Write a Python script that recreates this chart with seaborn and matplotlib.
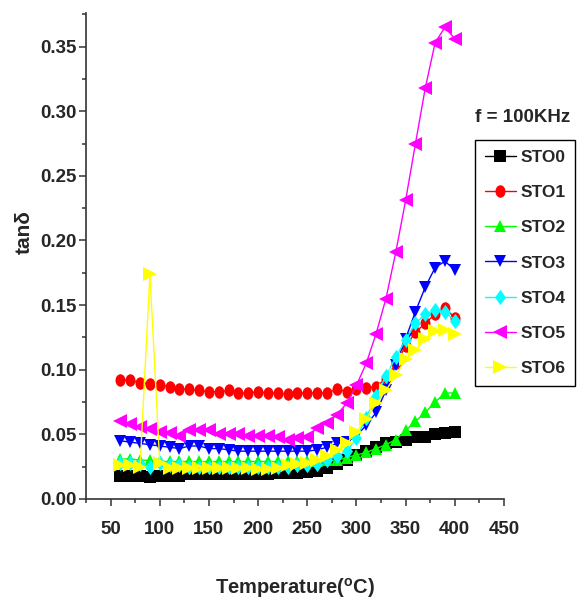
import matplotlib
matplotlib.use("Agg")
import matplotlib.pyplot as plt
import seaborn as sns
from matplotlib.path import Path
from matplotlib.ticker import MultipleLocator, FormatStrFormatter

# Temperature (deg C) and loss tangent for each sample at f = 100 kHz
temperature = [60, 70, 80, 90, 100, 110, 120, 130, 140, 150, 160, 170, 180, 190,
               200, 210, 220, 230, 240, 250, 260, 270, 280, 290, 300, 310, 320,
               330, 340, 350, 360, 370, 380, 390, 400]

sto0 = [0.018, 0.018, 0.018, 0.017, 0.018, 0.018, 0.018, 0.019, 0.019, 0.019,
        0.019, 0.019, 0.019, 0.019, 0.019, 0.019, 0.020, 0.020, 0.020, 0.021,
        0.022, 0.024, 0.027, 0.030, 0.034, 0.037, 0.040, 0.043, 0.044, 0.046,
        0.048, 0.048, 0.050, 0.051, 0.052]
sto1 = [0.092, 0.092, 0.090, 0.089, 0.088, 0.087, 0.085, 0.085, 0.084, 0.083,
        0.083, 0.084, 0.082, 0.082, 0.083, 0.082, 0.082, 0.081, 0.082, 0.082,
        0.082, 0.082, 0.085, 0.083, 0.085, 0.086, 0.087, 0.093, 0.105, 0.118,
        0.129, 0.136, 0.143, 0.148, 0.140]
sto2 = [0.031, 0.031, 0.030, 0.030, 0.029, 0.029, 0.029, 0.029, 0.029, 0.029,
        0.029, 0.029, 0.029, 0.029, 0.029, 0.029, 0.029, 0.029, 0.029, 0.029,
        0.029, 0.030, 0.030, 0.032, 0.034, 0.036, 0.039, 0.042, 0.046, 0.053,
        0.060, 0.067, 0.075, 0.082, 0.082]
sto3 = [0.045, 0.044, 0.043, 0.042, 0.041, 0.040, 0.039, 0.041, 0.041, 0.039,
        0.039, 0.038, 0.037, 0.037, 0.037, 0.037, 0.037, 0.037, 0.037, 0.037,
        0.038, 0.040, 0.043, 0.044, 0.049, 0.057, 0.067, 0.084, 0.104, 0.124,
        0.145, 0.164, 0.179, 0.184, 0.177]
sto4 = [0.028, 0.028, 0.027, 0.025, 0.028, 0.026, 0.026, 0.025, 0.025, 0.025,
        0.025, 0.025, 0.025, 0.025, 0.025, 0.025, 0.025, 0.025, 0.026, 0.026,
        0.027, 0.030, 0.033, 0.037, 0.047, 0.063, 0.080, 0.095, 0.110, 0.123,
        0.136, 0.143, 0.146, 0.145, 0.138]
sto5 = [0.060, 0.058, 0.056, 0.054, 0.052, 0.051, 0.049, 0.053, 0.053, 0.053,
        0.050, 0.050, 0.050, 0.049, 0.049, 0.049, 0.048, 0.046, 0.047, 0.048,
        0.055, 0.059, 0.065, 0.074, 0.088, 0.105, 0.128, 0.155, 0.191, 0.231,
        0.275, 0.318, 0.353, 0.365, 0.356]
sto6 = [0.026, 0.026, 0.025, 0.174, 0.028, 0.024, 0.024, 0.024, 0.024, 0.024,
        0.024, 0.024, 0.024, 0.024, 0.023, 0.023, 0.024, 0.026, 0.027, 0.028,
        0.030, 0.033, 0.038, 0.043, 0.052, 0.062, 0.074, 0.084, 0.096, 0.108,
        0.115, 0.124, 0.130, 0.131, 0.128]

names = ["STO0", "STO1", "STO2", "STO3", "STO4", "STO5", "STO6"]
series = [sto0, sto1, sto2, sto3, sto4, sto5, sto6]
colors = ["#000000", "#FF0000", "#00FF00", "#0000FF", "#00FFFF", "#FF00FF", "#FFFF00"]


def squeezed(path, sx=0.8):
    """Return a marker path narrowed horizontally."""
    v = path.vertices.copy()
    v[:, 0] *= sx
    return Path(v, path.codes)


ellipse = squeezed(Path.unit_circle(), 0.8)
diamond = Path([(0, 1), (0.72, 0), (0, -1), (-0.72, 0), (0, 1)],
               [Path.MOVETO, Path.LINETO, Path.LINETO, Path.LINETO, Path.CLOSEPOLY])
markers = ["s", ellipse, "^", "v", diamond, "<", ">"]
msizes = [8, 9, 9, 9, 11, 10, 10]

sns.set_style("ticks")
plt.rcParams["font.family"] = ["Liberation Sans", "DejaVu Sans"]
plt.rcParams["font.weight"] = "bold"
plt.rcParams["mathtext.default"] = "regular"

fig = plt.figure(figsize=(5.85, 6.10), dpi=100)
ax = fig.add_axes([0.147, 0.182, 0.7145, 0.7967])

for name, vals, col, mk, ms in zip(names, series, colors, markers, msizes):
    sns.lineplot(x=temperature, y=vals, ax=ax, color=col, marker=mk,
                 markersize=ms, markeredgewidth=0, linewidth=1.0,
                 label=name, estimator=None)

ax.set_xlim(25, 450)
ax.set_ylim(0, 0.376)
ax.set_xticks([50, 100, 150, 200, 250, 300, 350, 400, 450])
ax.xaxis.set_minor_locator(MultipleLocator(25))
ax.yaxis.set_major_locator(MultipleLocator(0.05))
ax.yaxis.set_minor_locator(MultipleLocator(0.025))
ax.yaxis.set_major_formatter(FormatStrFormatter("%.2f"))

for s in ["top", "right"]:
    ax.spines[s].set_visible(False)
for s in ["left", "bottom"]:
    ax.spines[s].set_color("#333333")
    ax.spines[s].set_linewidth(1.2)

ax.tick_params(axis="both", which="major", direction="out", length=5,
               width=1.1, color="#333333", labelsize=13.5)
ax.tick_params(axis="both", which="minor", direction="out", length=3,
               width=1.1, color="#333333")
ax.tick_params(axis="x", which="major", pad=11)
ax.tick_params(axis="y", which="major", pad=2)
for lab in ax.get_xticklabels() + ax.get_yticklabels():
    lab.set_fontweight("bold")

ax.set_xlabel("Temperature($^{o}$C)", fontsize=14.5, fontweight="bold", labelpad=27)
ax.set_ylabel("tan\u03b4", fontsize=15, fontweight="bold")
ax.yaxis.set_label_coords(-0.125, 0.55)

fig.text(0.812, 0.808, "f = 100KHz", fontsize=13.5, fontweight="bold",
         ha="left", va="center")

handles, labels = ax.get_legend_handles_labels()
leg = ax.legend(handles, labels, loc="upper left",
                bbox_to_anchor=(0.812, 0.7705), bbox_transform=fig.transFigure,
                borderaxespad=0, frameon=True, fancybox=False, shadow=False,
                prop={"size": 12.5, "weight": "bold"}, handlelength=1.8,
                handletextpad=0.25, labelspacing=1.16, borderpad=0.55,
                numpoints=1)
leg.get_frame().set_edgecolor("#000000")
leg.get_frame().set_linewidth(1.0)
leg.get_frame().set_alpha(1)

fig.savefig("out.png", dpi=100)
